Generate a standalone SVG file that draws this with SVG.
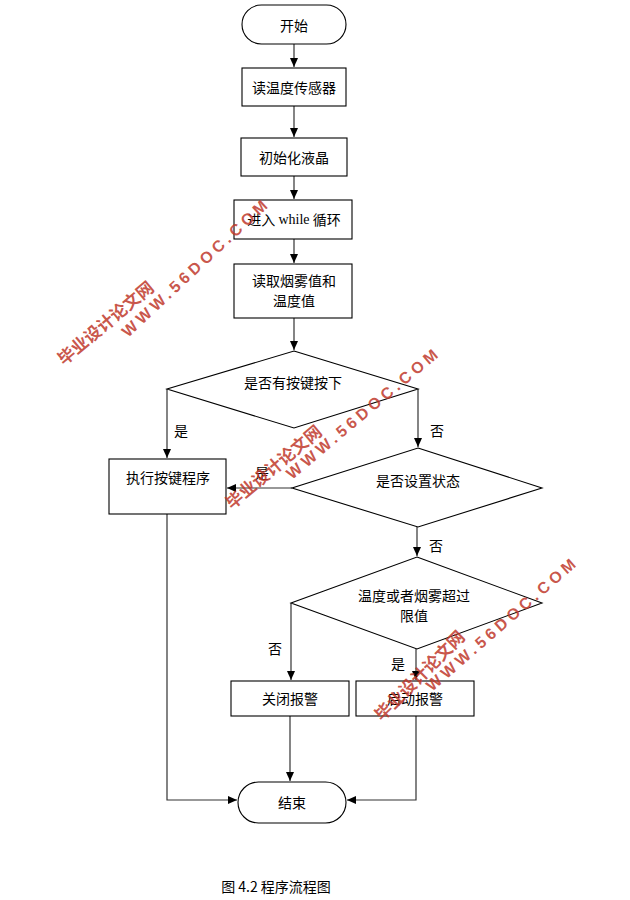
<svg xmlns="http://www.w3.org/2000/svg" width="630" height="900" viewBox="0 0 630 900">
<style>
.s{fill:#fff;stroke:#000;stroke-width:1.1}
.t{font-family:"Noto Sans CJK SC","Liberation Sans",sans-serif;font-size:14px;fill:#000;text-anchor:middle;dominant-baseline:central}
.c{fill:none;stroke:#333;stroke-width:1.2}
.w{font-family:"Liberation Sans","Noto Sans CJK SC",sans-serif;font-weight:bold;fill:#c0392b;fill-opacity:0.85}
.wc{font-size:17px}
.we{font-size:16px;letter-spacing:4px}
</style>
<defs>
<marker id="a" markerUnits="userSpaceOnUse" markerWidth="9" markerHeight="8" refX="9" refY="4" orient="auto">
<path d="M0,0 L9,4 L0,8 z" fill="#000"/>
</marker>
</defs>
<rect width="630" height="900" fill="#fff"/>
<g id="connectors">
<line class="c" x1="294" y1="44" x2="294" y2="67" marker-end="url(#a)"/>
<line class="c" x1="294" y1="106" x2="294" y2="137" marker-end="url(#a)"/>
<line class="c" x1="294" y1="176" x2="294" y2="199" marker-end="url(#a)"/>
<line class="c" x1="294" y1="239" x2="294" y2="263" marker-end="url(#a)"/>
<line class="c" x1="294" y1="318" x2="294" y2="350" marker-end="url(#a)"/>
<polyline class="c" points="167,389 167,458" marker-end="url(#a)"/>
<polyline class="c" points="418,389 418,447" marker-end="url(#a)"/>
<line class="c" x1="292" y1="488" x2="227" y2="488" marker-end="url(#a)"/>
<line class="c" x1="417" y1="527" x2="417" y2="556" marker-end="url(#a)"/>
<polyline class="c" points="291,603 291,680" marker-end="url(#a)"/>
<line class="c" x1="416" y1="649" x2="416" y2="680" marker-end="url(#a)"/>
<line class="c" x1="290" y1="716" x2="290" y2="781" marker-end="url(#a)"/>
<polyline class="c" points="416,716 416,800 347,800" marker-end="url(#a)"/>
<polyline class="c" points="167,514 167,800 237,800" marker-end="url(#a)"/>
<text class="t" x="181" y="430">是</text>
<text class="t" x="437" y="430">否</text>
<text class="t" x="262" y="472">是</text>
<text class="t" x="436" y="545">否</text>
<text class="t" x="275" y="648">否</text>
<text class="t" x="398" y="663">是</text>
</g>
<g id="start"><rect class="s" x="242" y="5" width="104" height="39" rx="19.5"/><text class="t" x="294" y="25">开始</text></g>
<g id="read-sensor"><rect class="s" x="242" y="68" width="104" height="38"/><text class="t" x="294" y="87">读温度传感器</text></g>
<g id="init-lcd"><rect class="s" x="241" y="138" width="106" height="38"/><text class="t" x="294" y="157">初始化液晶</text></g>
<g id="while"><rect class="s" x="234" y="200" width="118" height="39"/><text class="t" x="294" y="219">进入 <tspan font-family="Liberation Serif,serif">while</tspan> 循环</text></g>
<g id="read-values"><rect class="s" x="234" y="264" width="118" height="54"/><text class="t" x="294" y="280">读取烟雾值和</text><text class="t" x="294" y="300">温度值</text></g>
<g id="key-pressed"><polygon class="s" points="294,351 418,389 294,428 167,389"/><text class="t" x="293" y="382">是否有按键按下</text></g>
<g id="key-program"><rect class="s" x="109" y="459" width="117" height="55"/><text class="t" x="168" y="477">执行按键程序</text></g>
<g id="set-state"><polygon class="s" points="418,448 542,488 418,527 292,488"/><text class="t" x="418" y="480">是否设置状态</text></g>
<g id="over-limit"><polygon class="s" points="417,557 542,603 417,649 291,603"/><text class="t" x="414" y="595">温度或者烟雾超过</text><text class="t" x="414" y="615">限值</text></g>
<g id="alarm-off"><rect class="s" x="231" y="681" width="118" height="35"/><text class="t" x="290" y="698">关闭报警</text></g>
<g id="alarm-on"><rect class="s" x="356" y="681" width="118" height="35"/><text class="t" x="415" y="698">启动报警</text></g>
<g id="end"><rect class="s" x="238" y="782" width="108" height="41" rx="20.5"/><text class="t" x="292" y="802">结束</text></g>
<text class="t" x="276" y="886" font-size="13">图 4.2 程序流程图</text>
<g id="watermark">
<text class="w wc" transform="translate(64,366) rotate(-40)">毕业设计论文网</text>
<text class="w we" transform="translate(128,338) rotate(-43)">WWW.56DOC.COM</text>
<text class="w wc" transform="translate(232,510) rotate(-40)">毕业设计论文网</text>
<text class="w we" transform="translate(292,480) rotate(-40)">WWW.56DOC.COM</text>
<text class="w wc" transform="translate(382,722) rotate(-45)">毕业设计论文网</text>
<text class="w we" transform="translate(432,692) rotate(-41)">WWW.56DOC.COM</text>
</g>
</svg>
